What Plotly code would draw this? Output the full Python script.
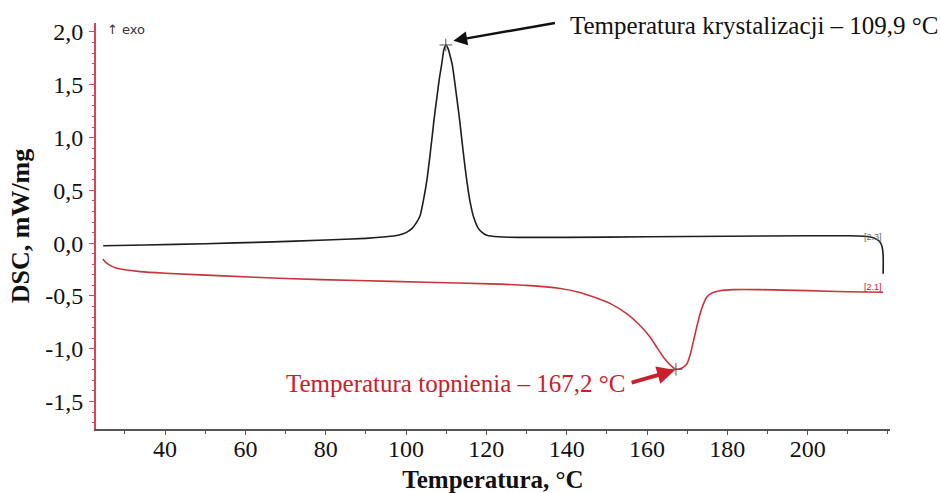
import plotly.graph_objects as go

# ---- data ----
cool_T = [24.6, 35, 50, 65, 80, 90, 95, 98, 100, 101.5, 102.5, 103.5, 104.3, 105.2, 105.8,
          106.4, 107.0, 107.7, 108.3, 108.9, 109.4, 109.9, 110.5, 111.0, 111.5, 112.0, 112.6,
          113.3, 113.9, 114.5, 115.1, 115.9, 116.8, 118.0, 119.0, 120.1, 123, 128, 140, 160,
          180, 200, 210, 214, 216.5, 217.8, 218.5, 218.8, 218.8]
cool_dsc = [-0.025, -0.018, -0.005, 0.01, 0.03, 0.045, 0.06, 0.075, 0.10, 0.14, 0.19, 0.26,
            0.40, 0.60, 0.78, 0.975, 1.18, 1.386, 1.56, 1.70, 1.83, 1.877, 1.84, 1.77, 1.69,
            1.56, 1.386, 1.18, 0.975, 0.78, 0.60, 0.40, 0.25, 0.14, 0.10, 0.075, 0.06, 0.055,
            0.055, 0.06, 0.065, 0.07, 0.07, 0.065, 0.05, 0.02, -0.03, -0.12, -0.29]

heat_T = [24.5, 25.3, 26.3, 27.8, 29.6, 33.8, 40, 54.5, 70, 87.8, 105, 121, 130, 138.4, 143,
          146.7, 151, 155, 158, 160.8, 162.5, 164.1, 165.7, 167.2, 168.6, 169.9, 170.8, 171.6,
          172.4, 173.2, 174.0, 174.9, 176.3, 178.2, 181.5, 188.2, 200, 210, 218.8]
heat_dsc = [-0.15, -0.185, -0.21, -0.235, -0.25, -0.27, -0.285, -0.31, -0.335, -0.354, -0.37,
            -0.386, -0.40, -0.43, -0.465, -0.51, -0.575, -0.67, -0.77, -0.89, -0.99, -1.08,
            -1.15, -1.195, -1.185, -1.145, -1.05, -0.92, -0.79, -0.67, -0.58, -0.51, -0.47,
            -0.45, -0.44, -0.44, -0.45, -0.46, -0.465]

peak_T = [109.9, 167.2]
peak_dsc = [1.877, -1.195]

x_ticks = [40, 60, 80, 100, 120, 140, 160, 180, 200]
x_ticklabels = ["40", "60", "80", "100", "120", "140", "160", "180", "200"]
y_ticks = [2.0, 1.5, 1.0, 0.5, 0.0, -0.5, -1.0, -1.5]
y_ticklabels = ["2,0", "1,5", "1,0", "0,5", "0,0", "-0,5", "-1,0", "-1,5"]

SERIF = "Liberation Serif"
RED = "#c8202c"
CURVE_RED = "#c8343c"
AXIS_RED = "#d9445a"

fig = go.Figure()
fig.add_trace(go.Scatter(x=cool_T, y=cool_dsc, mode="lines",
                         line=dict(color="#1e1e1e", width=1.6, shape="spline", smoothing=0.5),
                         showlegend=False, hoverinfo="skip"))
fig.add_trace(go.Scatter(x=heat_T, y=heat_dsc, mode="lines",
                         line=dict(color=CURVE_RED, width=1.6, shape="spline", smoothing=0.5),
                         showlegend=False, hoverinfo="skip"))
fig.add_trace(go.Scatter(x=peak_T, y=peak_dsc, mode="markers",
                         marker=dict(symbol="cross-thin", size=9,
                                     line=dict(color="#555555", width=1)),
                         showlegend=False, hoverinfo="skip"))

fig.update_layout(
    width=941, height=493,
    margin=dict(l=96, r=51, t=23, b=64),
    paper_bgcolor="white", plot_bgcolor="white",
    font=dict(family=SERIF, size=24, color="#111111"),
    xaxis=dict(range=[22.8, 220.5], tickvals=x_ticks, ticktext=x_ticklabels,
               automargin=False,
               showgrid=False, zeroline=False, showline=True, linecolor="#555555",
               linewidth=2, ticks="outside", ticklen=4, tickcolor="#555555",
               ticklabelstandoff=-7,
               minor=dict(dtick=10, tick0=0, ticks="outside", ticklen=3, tickcolor="#555555"),
               tickfont=dict(family=SERIF, size=24, color="#111111"),
               title=dict(text="<b>Temperatura, °C</b>", standoff=12,
                          font=dict(family=SERIF, size=25, color="#111111"))),
    yaxis=dict(range=[-1.76, 2.085], tickvals=y_ticks, ticktext=y_ticklabels,
               automargin=False,
               showgrid=False, zeroline=False, showline=True, linecolor=AXIS_RED,
               linewidth=2, ticks="outside", ticklen=5, tickcolor=AXIS_RED,
               ticklabelstandoff=1,
               minor=dict(dtick=0.1, tick0=0, ticks="outside", ticklen=2, tickcolor=AXIS_RED),
               tickfont=dict(family=SERIF, size=24, color="#111111"),
               title=dict(text="<b>DSC, mW/mg</b>", standoff=8,
                          font=dict(family=SERIF, size=26, color="#111111"))),
)

annotations = [
    # crystallization text + arrow
    dict(x=140.4, y=2.066, xref="x", yref="y", text="Temperatura krystalizacji – 109,9 °C",
         showarrow=False, xanchor="left", yanchor="middle",
         font=dict(family=SERIF, size=25, color="#111111")),
    dict(x=111.8, y=1.917, xref="x", yref="y", text="", showarrow=True,
         ax=103, ay=-18, arrowhead=2, arrowsize=1.1, arrowwidth=2.5, arrowcolor="#111111"),
    # melting text + arrow
    dict(x=155.1, y=-1.328, xref="x", yref="y", text="Temperatura topnienia – 167,2 °C",
         showarrow=False, xanchor="right", yanchor="middle",
         font=dict(family=SERIF, size=25, color=RED)),
    dict(x=167.0, y=-1.202, xref="x", yref="y", text="", showarrow=True,
         ax=-45, ay=13, arrowhead=2, arrowsize=0.9, arrowwidth=4, arrowcolor=RED),
    # exo marker
    dict(x=0.011, y=0.983, xref="paper", yref="paper", text="↑ exo", showarrow=False,
         xanchor="left", yanchor="middle",
         font=dict(family="DejaVu Sans", size=13, color="#333333")),
    # curve tags
    dict(x=216.3, y=0.057, xref="x", yref="y", text="[2.3]", showarrow=False,
         font=dict(family="Liberation Sans", size=9, color="#666666")),
    dict(x=216.3, y=-0.417, xref="x", yref="y", text="[2.1]", showarrow=False,
         font=dict(family="Liberation Sans", size=9, color=RED)),
]
fig.update_layout(annotations=annotations)

fig.write_html("out.html")
